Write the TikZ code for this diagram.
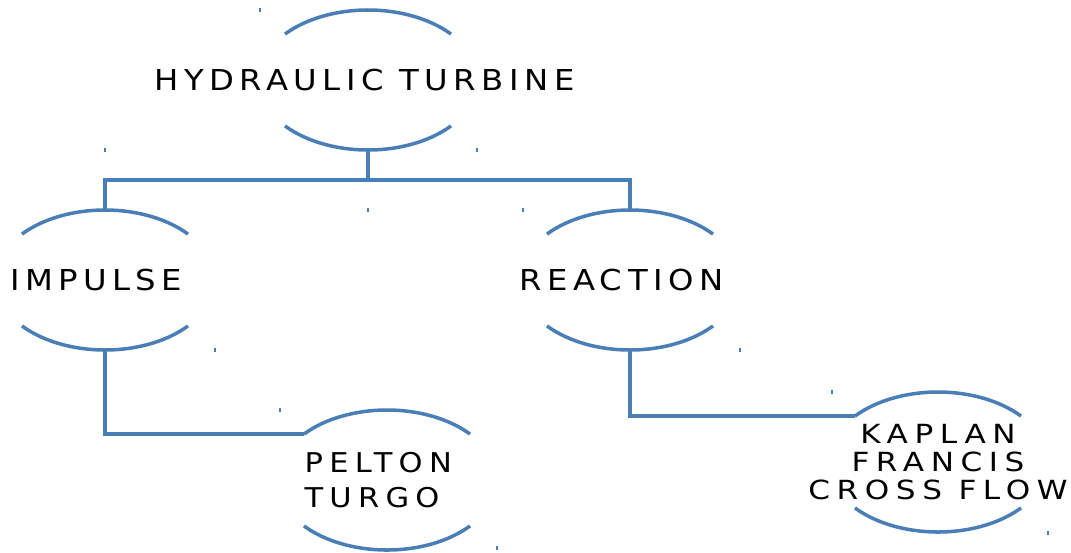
\documentclass[tikz,border=0pt]{standalone}
\usepackage{fontspec}
\newfontfamily\turbfont[FakeStretch=1.12,LetterSpace=19]{DejaVu Sans}
\newfontfamily\pelfont[FakeStretch=1.12,LetterSpace=23]{DejaVu Sans}
\newfontfamily\kapfont[FakeStretch=1.18,LetterSpace=25]{DejaVu Sans}
\usepackage{tikz}
\definecolor{linkblue}{RGB}{74,126,182}
\newcommand\ovalarcs[1]{%
\draw[link]([shift={(41:110 and 70)}]#1.center)arc[start angle=41,end angle=139,x radius=110,y radius=70]
([shift={(221:110 and 70)}]#1.center)arc[start angle=221,end angle=319,x radius=110,y radius=70];}

\begin{document}
\begin{tikzpicture}[x=0.02cm,y=-0.02cm,
link/.style={draw=linkblue,line width=2pt},
tick/.style={draw=linkblue,line width=0.6pt},
kind/.style={minimum width=4.4cm,minimum height=2.8cm,inner sep=0pt},
word/.style={inner sep=0pt,align=center,font=\turbfont\fontsize{16.4}{16}\selectfont}]
\useasboundingbox(0,0)rectangle(1071,552);
\node[kind](hyd)at(368,80){};
\node[kind](imp)at(105,280){};
\node[kind](rea)at(630,280){};
\node[kind](pel)at(387,480){};
\node[kind](kap)at(938,462){};
\node[word](hydt)at([xshift=-2]hyd){HYDRAULIC TURBINE};
\node[word](impt)at([xshift=-5]imp){IMPULSE};
\node[word](reat)at([xshift=-5]rea){REACTION};
\node[word,align=left,font=\pelfont\fontsize{15.5}{19.8}\selectfont](pelt)at([xshift=-5]pel){PELTON\\TURGO};
\node[word,font=\kapfont\fontsize{15}{15.9}\selectfont](kapt)at(kap){KAPLAN\\FRANCIS\\CROSS FLOW};
\foreach \n in {hyd,imp,rea,pel,kap}{\ovalarcs{\n}}
\coordinate(bus)at(368,180);
\coordinate(pelin)at([shift={(221:110 and 70)}]pel.center);
\coordinate(kapin)at([shift={(221:110 and 70)}]kap.center);
\draw[link](hyd.south)--(bus);
\draw[link](imp.north)|-(bus)-|(rea.north);
\draw[link](imp.south)|-(pelin);
\draw[link](rea.south)|-(kapin);
\foreach \p in {(260,10),(105,150),(477,150),(368,210),(523,210),(215,350),(280,410),(740,350),(832,392),(497,548),(1048,533)}
\draw[tick]\p++(0,-2)--++(0,4);
\end{tikzpicture}
\end{document}
